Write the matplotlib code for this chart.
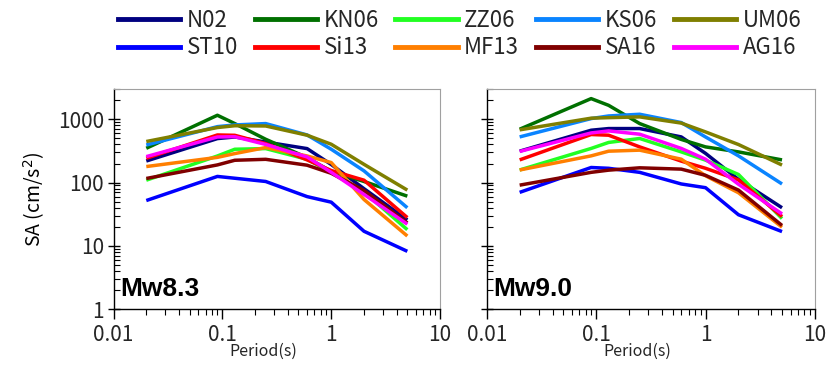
import numpy as np
import matplotlib
matplotlib.use("Agg")
import matplotlib.pyplot as plt
from matplotlib.lines import Line2D

plt.rcParams['font.family'] = ['Noto Sans CJK JP', 'DejaVu Sans']
plt.rcParams['text.color'] = '#262626'
plt.rcParams['xtick.labelcolor'] = '#262626'
plt.rcParams['ytick.labelcolor'] = '#262626'

# periods (s)
periods = [0.02, 0.09, 0.13, 0.25, 0.6, 1.0, 2.0, 5.0]

models = ['N02', 'KN06', 'ZZ06', 'KS06', 'UM06',
          'ST10', 'Si13', 'MF13', 'SA16', 'AG16']
colors = ['#000080', '#007000', '#22ff22', '#0a84ff', '#7f7f00',
          '#0000ff', '#ff0000', '#ff7f00', '#800000', '#ff00ff']

# SA (cm/s2), Mw8.3
sa_83 = {
    'N02':  [219, 495, 525, 437, 344, 193, 80, 25.7],
    'KN06': [348, 1157, 855, 483, 248, 150, 104, 61],
    'ZZ06': [109, 263, 336, 344, 233, 145, 71, 18],
    'KS06': [392, 765, 813, 855, 565, 336, 153, 40],
    'UM06': [445, 740, 790, 783, 560, 403, 194, 76],
    'ST10': [52, 125, 117, 104, 60, 49, 17, 8.2],
    'Si13': [242, 565, 558, 413, 228, 155, 109, 28],
    'MF13': [179, 250, 287, 357, 263, 207, 54, 14.3],
    'SA16': [116, 190, 225, 233, 188, 140, 75, 23],
    'AG16': [257, 525, 530, 400, 254, 145, 65, 22],
}

# SA (cm/s2), Mw9.0
sa_90 = {
    'N02':  [313, 671, 713, 713, 526, 289, 112, 40],
    'KN06': [696, 2120, 1660, 855, 480, 366, 305, 228],
    'ZZ06': [158, 346, 430, 497, 305, 226, 134, 27],
    'KS06': [526, 1025, 1128, 1200, 887, 525, 264, 95],
    'UM06': [680, 1040, 1060, 1090, 870, 631, 399, 189],
    'ST10': [70, 173, 168, 145, 95, 83, 31, 16.8],
    'Si13': [228, 574, 560, 366, 218, 168, 110, 29],
    'MF13': [158, 264, 313, 325, 234, 128, 69, 19.7],
    'SA16': [91, 145, 157, 171, 163, 130, 76, 21],
    'AG16': [310, 608, 654, 581, 346, 234, 94, 32],
}

panels = [('Mw8.3', sa_83), ('Mw9.0', sa_90)]

fig = plt.figure(figsize=(8.31, 3.65), dpi=100)
ax1 = fig.add_axes([0.1366, 0.153, 0.393, 0.603])
ax2 = fig.add_axes([0.5857, 0.153, 0.395, 0.603])

for ax, (name, data) in zip([ax1, ax2], panels):
    for m, c in zip(models, colors):
        ax.plot(periods, data[m], color=c, lw=2.5, solid_capstyle='butt')
    ax.set_xscale('log')
    ax.set_yscale('log')
    ax.set_xlim(0.01, 10)
    ax.set_ylim(1, 3000)
    ax.set_xticks([0.01, 0.1, 1, 10])
    ax.set_xticklabels(['0.01', '0.1', '1', '10'])
    ax.tick_params(axis='x', which='major', direction='out', length=7,
                   width=1, labelsize=15, pad=4)
    ax.tick_params(axis='x', which='minor', direction='out', length=4, width=0.8)
    ax.tick_params(axis='y', which='major', direction='inout', length=8, width=1)
    ax.tick_params(axis='y', which='minor', direction='in', length=4, width=0.8)
    for s in ['top', 'right']:
        ax.spines[s].set_color('#a0a0a0')
        ax.spines[s].set_linewidth(0.8)
    for s in ['left', 'bottom']:
        ax.spines[s].set_linewidth(1.0)
    ax.text(0.02, 0.035, name, transform=ax.transAxes, fontsize=19,
            fontweight='bold', family='Liberation Sans', color='black',
            ha='left', va='bottom')
    ax.text(0.46, -0.19, 'Period(s)', transform=ax.transAxes, fontsize=11.5,
            ha='center', va='center')

ax1.set_yticks([1, 10, 100, 1000])
ax1.set_yticklabels(['1', '10', '100', '1000'])
ax1.tick_params(axis='y', labelsize=15, pad=3)
ax1.set_ylabel('SA (cm/s$^2$)', fontsize=14, labelpad=8)
ax2.set_yticks([1, 10, 100, 1000])
ax2.set_yticklabels([])

# legend fills column by column, so interleave the two rows
order = [0, 5, 1, 6, 2, 7, 3, 8, 4, 9]
handles = [Line2D([0], [0], color=colors[i], lw=3.5) for i in order]
labels = [models[i] for i in order]
fig.legend(handles, labels, loc='upper center', bbox_to_anchor=(0.553, 1.03),
           ncol=5, frameon=False, fontsize=16, handlelength=2.8,
           columnspacing=0.75, handletextpad=0.3, labelspacing=0.2)

fig.savefig('out.png', dpi=100)
